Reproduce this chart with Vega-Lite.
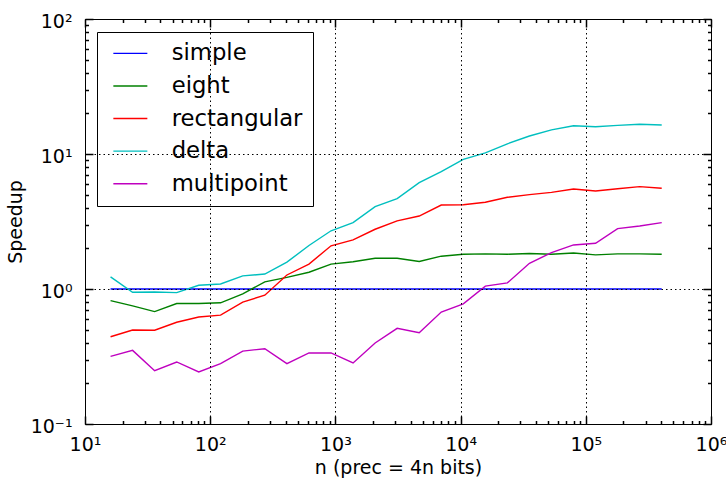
{
  "$schema": "https://vega.github.io/schema/vega-lite/v6.json",
  "autosize": {"type": "none"},
  "padding": {"left": 85, "top": 19, "right": 15, "bottom": 55},
  "width": 626,
  "height": 405,
  "background": "white",
  "config": {
    "font": "DejaVu Sans",
    "view": {"stroke": "black", "strokeWidth": 1}
  },
  "datasets": {
    "speed": [
      {"n": 16, "series": "simple", "speedup": 1},
      {"n": 24, "series": "simple", "speedup": 1},
      {"n": 36, "series": "simple", "speedup": 1},
      {"n": 54, "series": "simple", "speedup": 1},
      {"n": 81, "series": "simple", "speedup": 1},
      {"n": 121, "series": "simple", "speedup": 1},
      {"n": 182, "series": "simple", "speedup": 1},
      {"n": 273, "series": "simple", "speedup": 1},
      {"n": 410, "series": "simple", "speedup": 1},
      {"n": 615, "series": "simple", "speedup": 1},
      {"n": 923, "series": "simple", "speedup": 1},
      {"n": 1384, "series": "simple", "speedup": 1},
      {"n": 2076, "series": "simple", "speedup": 1},
      {"n": 3114, "series": "simple", "speedup": 1},
      {"n": 4671, "series": "simple", "speedup": 1},
      {"n": 7006, "series": "simple", "speedup": 1},
      {"n": 10509, "series": "simple", "speedup": 1},
      {"n": 15763, "series": "simple", "speedup": 1},
      {"n": 23645, "series": "simple", "speedup": 1},
      {"n": 35468, "series": "simple", "speedup": 1},
      {"n": 53202, "series": "simple", "speedup": 1},
      {"n": 79803, "series": "simple", "speedup": 1},
      {"n": 119705, "series": "simple", "speedup": 1},
      {"n": 179557, "series": "simple", "speedup": 1},
      {"n": 269335, "series": "simple", "speedup": 1},
      {"n": 404003, "series": "simple", "speedup": 1},

      {"n": 16, "series": "eight", "speedup": 0.82},
      {"n": 24, "series": "eight", "speedup": 0.75},
      {"n": 36, "series": "eight", "speedup": 0.68},
      {"n": 54, "series": "eight", "speedup": 0.78},
      {"n": 81, "series": "eight", "speedup": 0.78},
      {"n": 121, "series": "eight", "speedup": 0.79},
      {"n": 182, "series": "eight", "speedup": 0.92},
      {"n": 273, "series": "eight", "speedup": 1.13},
      {"n": 410, "series": "eight", "speedup": 1.22},
      {"n": 615, "series": "eight", "speedup": 1.33},
      {"n": 923, "series": "eight", "speedup": 1.53},
      {"n": 1384, "series": "eight", "speedup": 1.59},
      {"n": 2076, "series": "eight", "speedup": 1.69},
      {"n": 3114, "series": "eight", "speedup": 1.69},
      {"n": 4671, "series": "eight", "speedup": 1.6},
      {"n": 7006, "series": "eight", "speedup": 1.75},
      {"n": 10509, "series": "eight", "speedup": 1.81},
      {"n": 15763, "series": "eight", "speedup": 1.82},
      {"n": 23645, "series": "eight", "speedup": 1.81},
      {"n": 35468, "series": "eight", "speedup": 1.83},
      {"n": 53202, "series": "eight", "speedup": 1.81},
      {"n": 79803, "series": "eight", "speedup": 1.85},
      {"n": 119705, "series": "eight", "speedup": 1.79},
      {"n": 179557, "series": "eight", "speedup": 1.82},
      {"n": 269335, "series": "eight", "speedup": 1.82},
      {"n": 404003, "series": "eight", "speedup": 1.81},

      {"n": 16, "series": "rectangular", "speedup": 0.443},
      {"n": 24, "series": "rectangular", "speedup": 0.497},
      {"n": 36, "series": "rectangular", "speedup": 0.495},
      {"n": 54, "series": "rectangular", "speedup": 0.567},
      {"n": 81, "series": "rectangular", "speedup": 0.62},
      {"n": 121, "series": "rectangular", "speedup": 0.64},
      {"n": 182, "series": "rectangular", "speedup": 0.8},
      {"n": 273, "series": "rectangular", "speedup": 0.9},
      {"n": 410, "series": "rectangular", "speedup": 1.27},
      {"n": 615, "series": "rectangular", "speedup": 1.53},
      {"n": 923, "series": "rectangular", "speedup": 2.09},
      {"n": 1384, "series": "rectangular", "speedup": 2.31},
      {"n": 2076, "series": "rectangular", "speedup": 2.77},
      {"n": 3114, "series": "rectangular", "speedup": 3.2},
      {"n": 4671, "series": "rectangular", "speedup": 3.47},
      {"n": 7006, "series": "rectangular", "speedup": 4.19},
      {"n": 10509, "series": "rectangular", "speedup": 4.21},
      {"n": 15763, "series": "rectangular", "speedup": 4.39},
      {"n": 23645, "series": "rectangular", "speedup": 4.78},
      {"n": 35468, "series": "rectangular", "speedup": 5.0},
      {"n": 53202, "series": "rectangular", "speedup": 5.2},
      {"n": 79803, "series": "rectangular", "speedup": 5.5},
      {"n": 119705, "series": "rectangular", "speedup": 5.32},
      {"n": 179557, "series": "rectangular", "speedup": 5.53},
      {"n": 269335, "series": "rectangular", "speedup": 5.73},
      {"n": 404003, "series": "rectangular", "speedup": 5.57},

      {"n": 16, "series": "delta", "speedup": 1.23},
      {"n": 24, "series": "delta", "speedup": 0.945},
      {"n": 36, "series": "delta", "speedup": 0.95},
      {"n": 54, "series": "delta", "speedup": 0.94},
      {"n": 81, "series": "delta", "speedup": 1.065},
      {"n": 121, "series": "delta", "speedup": 1.09},
      {"n": 182, "series": "delta", "speedup": 1.25},
      {"n": 273, "series": "delta", "speedup": 1.29},
      {"n": 410, "series": "delta", "speedup": 1.58},
      {"n": 615, "series": "delta", "speedup": 2.1},
      {"n": 923, "series": "delta", "speedup": 2.7},
      {"n": 1384, "series": "delta", "speedup": 3.1},
      {"n": 2076, "series": "delta", "speedup": 4.07},
      {"n": 3114, "series": "delta", "speedup": 4.67},
      {"n": 4671, "series": "delta", "speedup": 6.13},
      {"n": 7006, "series": "delta", "speedup": 7.39},
      {"n": 10509, "series": "delta", "speedup": 9.12},
      {"n": 15763, "series": "delta", "speedup": 10.2},
      {"n": 23645, "series": "delta", "speedup": 11.9},
      {"n": 35468, "series": "delta", "speedup": 13.6},
      {"n": 53202, "series": "delta", "speedup": 15.1},
      {"n": 79803, "series": "delta", "speedup": 16.2},
      {"n": 119705, "series": "delta", "speedup": 15.9},
      {"n": 179557, "series": "delta", "speedup": 16.3},
      {"n": 269335, "series": "delta", "speedup": 16.6},
      {"n": 404003, "series": "delta", "speedup": 16.4},

      {"n": 16, "series": "multipoint", "speedup": 0.317},
      {"n": 24, "series": "multipoint", "speedup": 0.351},
      {"n": 36, "series": "multipoint", "speedup": 0.248},
      {"n": 54, "series": "multipoint", "speedup": 0.288},
      {"n": 81, "series": "multipoint", "speedup": 0.243},
      {"n": 121, "series": "multipoint", "speedup": 0.28},
      {"n": 182, "series": "multipoint", "speedup": 0.347},
      {"n": 273, "series": "multipoint", "speedup": 0.361},
      {"n": 410, "series": "multipoint", "speedup": 0.28},
      {"n": 615, "series": "multipoint", "speedup": 0.336},
      {"n": 923, "series": "multipoint", "speedup": 0.336},
      {"n": 1384, "series": "multipoint", "speedup": 0.283},
      {"n": 2076, "series": "multipoint", "speedup": 0.398},
      {"n": 3114, "series": "multipoint", "speedup": 0.511},
      {"n": 4671, "series": "multipoint", "speedup": 0.475},
      {"n": 7006, "series": "multipoint", "speedup": 0.675},
      {"n": 10509, "series": "multipoint", "speedup": 0.776},
      {"n": 15763, "series": "multipoint", "speedup": 1.05},
      {"n": 23645, "series": "multipoint", "speedup": 1.11},
      {"n": 35468, "series": "multipoint", "speedup": 1.55},
      {"n": 53202, "series": "multipoint", "speedup": 1.86},
      {"n": 79803, "series": "multipoint", "speedup": 2.12},
      {"n": 119705, "series": "multipoint", "speedup": 2.18},
      {"n": 179557, "series": "multipoint", "speedup": 2.8},
      {"n": 269335, "series": "multipoint", "speedup": 2.93},
      {"n": 404003, "series": "multipoint", "speedup": 3.1}
    ]
  },
  "data": {"name": "speed"},
  "layer": [
    {
      "mark": {"type": "line", "strokeWidth": 1.4, "clip": true},
      "encoding": {
        "x": {
          "field": "n", "type": "quantitative",
          "scale": {"type": "log", "domain": [10, 1000000], "nice": false},
          "axis": {
            "orient": "bottom", "offset": -8, "tickSize": 8, "tickColor": "black", "tickWidth": 1.5, "domain": false, "zindex": 1,
            "values": [10, 100, 1000, 10000, 100000, 1000000],
            "labelExpr": "datum.value == 10 ? '10¹' : datum.value == 100 ? '10²' : datum.value == 1000 ? '10³' : datum.value == 10000 ? '10⁴' : datum.value == 100000 ? '10⁵' : '10⁶'",
            "labelFontSize": 19, "labelColor": "black", "labelFlush": false, "labelOverlap": false,
            "labelPadding": 11.5,
            "grid": true, "gridColor": "black", "gridDash": [1.5, 3], "gridWidth": 1,
            "title": "n (prec = 4n bits)", "titleFontSize": 19, "titleFontWeight": "normal", "titleColor": "black", "titlePadding": 3.5
          }
        },
        "y": {
          "field": "speedup", "type": "quantitative",
          "scale": {"type": "log", "domain": [0.1, 100], "nice": false},
          "axis": {
            "orient": "left", "offset": -8, "tickSize": 8, "tickColor": "black", "tickWidth": 1.5, "domain": false, "zindex": 1,
            "values": [0.1, 1, 10, 100],
            "labelExpr": "datum.value == 0.1 ? '10⁻¹' : datum.value == 1 ? '10⁰' : datum.value == 10 ? '10¹' : '10²'",
            "labelFontSize": 19, "labelColor": "black", "labelOverlap": false, "labelFlush": false,
            "labelPadding": 13, "labelOffset": 2,
            "grid": true, "gridColor": "black", "gridDash": [1.5, 3], "gridWidth": 1,
            "title": "Speedup", "titleFontSize": 19, "titleFontWeight": "normal", "titleColor": "black", "titlePadding": 4.5
          }
        },
        "color": {
          "field": "series", "type": "nominal",
          "scale": {"domain": ["simple", "eight", "rectangular", "delta", "multipoint"], "range": ["#0000ff", "#008000", "#ff0000", "#00bfbf", "#bf00bf"]},
          "legend": {
            "orient": "none", "legendX": 12, "legendY": 13, "title": null,
            "symbolType": "M-1.7,0L1.7,0", "symbolSize": 400, "symbolStrokeWidth": 1.4,
            "symbolOffset": 12, "labelOffset": 30,
            "labelFontSize": 22.7, "labelColor": "black",
            "rowPadding": 8.6, "padding": 10,
            "strokeColor": "black", "fillColor": "white", "cornerRadius": 0
          }
        }
      }
    },
    {
      "mark": {"type": "line", "strokeOpacity": 0},
      "encoding": {
        "x": {
          "field": "n", "type": "quantitative",
          "axis": {
            "orient": "bottom", "offset": -3.5, "tickSize": 3.5, "tickColor": "black", "tickWidth": 1.5, "domain": false,
            "values": [20, 30, 40, 50, 60, 70, 80, 90, 200, 300, 400, 500, 600, 700, 800, 900, 2000, 3000, 4000, 5000, 6000, 7000, 8000, 9000, 20000, 30000, 40000, 50000, 60000, 70000, 80000, 90000, 200000, 300000, 400000, 500000, 600000, 700000, 800000, 900000],
            "labels": false, "grid": false, "title": null
          }
        },
        "y": {
          "field": "speedup", "type": "quantitative",
          "axis": {
            "orient": "left", "offset": -3.5, "tickSize": 3.5, "tickColor": "black", "tickWidth": 1.5, "domain": false,
            "values": [0.2, 0.3, 0.4, 0.5, 0.6, 0.7, 0.8, 0.9, 2, 3, 4, 5, 6, 7, 8, 9, 20, 30, 40, 50, 60, 70, 80, 90],
            "labels": false, "grid": false, "title": null
          }
        }
      }
    },
    {
      "mark": {"type": "line", "strokeOpacity": 0},
      "encoding": {
        "x": {
          "field": "n", "type": "quantitative",
          "axis": {
            "orient": "top", "offset": -8, "tickSize": 8, "tickColor": "black", "tickWidth": 1.5, "domain": false,
            "values": [10, 100, 1000, 10000, 100000, 1000000],
            "labels": false, "grid": false, "title": null
          }
        },
        "y": {
          "field": "speedup", "type": "quantitative",
          "axis": {
            "orient": "right", "offset": -8, "tickSize": 8, "tickColor": "black", "tickWidth": 1.5, "domain": false,
            "values": [0.1, 1, 10, 100],
            "labels": false, "grid": false, "title": null
          }
        }
      }
    },
    {
      "mark": {"type": "line", "strokeOpacity": 0},
      "encoding": {
        "x": {
          "field": "n", "type": "quantitative",
          "axis": {
            "orient": "top", "offset": -3.5, "tickSize": 3.5, "tickColor": "black", "tickWidth": 1.5, "domain": false,
            "values": [20, 30, 40, 50, 60, 70, 80, 90, 200, 300, 400, 500, 600, 700, 800, 900, 2000, 3000, 4000, 5000, 6000, 7000, 8000, 9000, 20000, 30000, 40000, 50000, 60000, 70000, 80000, 90000, 200000, 300000, 400000, 500000, 600000, 700000, 800000, 900000],
            "labels": false, "grid": false, "title": null
          }
        },
        "y": {
          "field": "speedup", "type": "quantitative",
          "axis": {
            "orient": "right", "offset": -3.5, "tickSize": 3.5, "tickColor": "black", "tickWidth": 1.5, "domain": false,
            "values": [0.2, 0.3, 0.4, 0.5, 0.6, 0.7, 0.8, 0.9, 2, 3, 4, 5, 6, 7, 8, 9, 20, 30, 40, 50, 60, 70, 80, 90],
            "labels": false, "grid": false, "title": null
          }
        }
      }
    }
  ],
  "resolve": {"axis": {"x": "independent", "y": "independent"}}
}
